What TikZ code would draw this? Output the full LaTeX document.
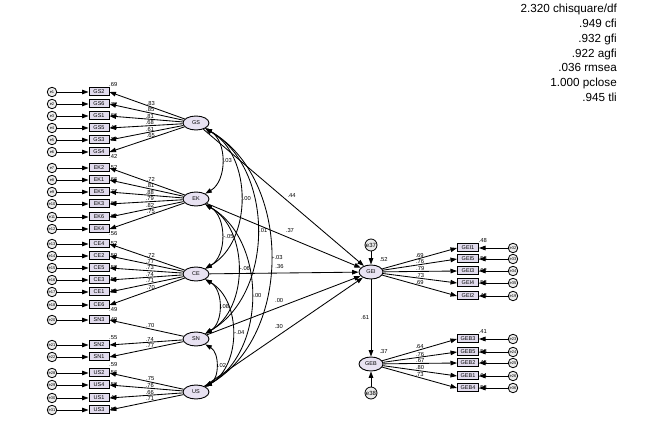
\documentclass[tikz,border=0pt]{standalone}
\usepackage{fontspec}
\setmainfont{Liberation Sans}
\usetikzlibrary{positioning}
\usetikzlibrary{shapes.geometric}
\usetikzlibrary{arrows.meta}
\definecolor{latfill}{RGB}{232,226,242}
\definecolor{obsfill}{RGB}{226,220,238}

\begin{document}
\begin{tikzpicture}[x=1pt, y=1pt, >={Triangle[length=6.5pt,width=4.6pt]},
	obs/.style={rectangle, draw, line width=1pt, fill=obsfill, minimum width=20pt, minimum height=8pt, inner sep=0pt, font=\fontsize{5.5}{5.5}\selectfont},
	lat/.style={ellipse, draw, line width=0.9pt, fill=latfill, minimum width=26pt, minimum height=14pt, inner sep=0pt, font=\fontsize{5.5}{5.5}\selectfont},
	err/.style={circle, draw, line width=0.8pt, fill=black!8, minimum size=9.5pt, inner sep=0pt, font=\fontsize{4}{4}\selectfont},
	load/.style={->, line width=0.85pt},
	cov/.style={<->, line width=0.85pt},
	num/.style={inner sep=0.5pt, font=\fontsize{5.8}{5.8}\selectfont}]
	\useasboundingbox (0,0) rectangle (665,-422);

	\node[anchor=north east, align=right, inner sep=0pt, font=\fontsize{11.7}{14.8}\selectfont] (fit) at (617,-4) {2.320 chisquare/df\\.949 cfi\\.932 gfi\\.922 agfi\\.036 rmsea\\1.000 pclose\\.945 tli};

	\node[lat] (GS) at (196,-123) {GS};
	\node[lat] (EK) at (196,-199) {EK};
	\node[lat] (CE) at (196,-274) {CE};
	\node[lat] (SN) at (196,-339) {SN};
	\node[lat] (US) at (196,-392) {US};
	\node[lat, minimum width=24pt] (GEI) at (371,-272) {GEI};
	\node[lat, minimum width=24pt] (GEB) at (371,-364) {GEB};
	\node[err, minimum size=12pt, font=\fontsize{6}{6}\selectfont] (e37) at (371,-245) {e37};
	\node[err, minimum size=12pt, font=\fontsize{6}{6}\selectfont] (e38) at (371,-393) {e38};

	\foreach \ind/\yy/\er/\ld/\rsq/\fac/\rc/\ra in {
		GS2/92/e1/.83/.69/GS/north east/south west, GS6/104/e2/.85/.72/GS/east/west,
		GS1/116/e3/.81/.66/GS/east/west, GS5/128/e4/.68/.46/GS/east/west,
		GS3/140/e5/.61/.37/GS/east/west, GS4/152/e6/.65/.42/GS/south east/west,
		EK2/168/e7/.72/.52/EK/east/west, EK1/180/e8/.81/.66/EK/east/west,
		EK5/192/e9/.88/.77/EK/east/west, EK3/204/e10/.79/.62/EK/east/west,
		EK6/217/e11/.82/.67/EK/east/west, EK4/229/e12/.75/.56/EK/south east/west,
		CE4/244/e13/.72/.52/CE/east/west, CE2/256/e14/.77/.59/CE/east/west,
		CE5/268/e15/.73/.53/CE/east/west, CE3/280/e16/.74/.55/CE/east/west,
		CE1/292/e17/.71/.50/CE/east/west, CE6/305/e18/.70/.49/CE/south east/west,
		SN3/320/e20/.70/.49/SN/east/west, SN2/345/e21/.74/.55/SN/north east/south west,
		SN1/357/e22/.77/.59/SN/south east/north west,
		US2/373/e28/.75/.56/US/east/west, US4/385/e29/.76/.58/US/east/west,
		US1/398/e30/.66/.44/US/east/west, US3/410/e31/.71/.50/US/east/west}
	{
		\node[obs] (\ind) at (99,-\yy) {\ind};
		\node[err] (\er) at (52,-\yy) {\er};
		\node[num, anchor=\ra, xshift=-1pt] at (\ind.\rc) {\rsq};
		\draw[load] (\er) -- (\ind.west);
		\draw[load] (\fac) -- (\ind.east) node[num, pos=.45, above=0pt] {\ld};
	}

	\foreach \ind/\yy/\er/\ld/\rsq/\fac/\rc/\ra in {
		GEI1/248/e32/.69/.48/GEI/north east/south west, GEI5/259/e33/.76/.58/GEI/east/west,
		GEI3/271/e34/.79/.62/GEI/east/west, GEI4/283/e35/.73/.53/GEI/east/west,
		GEI2/296/e19/.69/.48/GEI/east/west,
		GEB3/339/e23/.64/.41/GEB/north east/south west, GEB5/352/e24/.76/.58/GEB/east/west,
		GEB2/363/e25/.67/.45/GEB/east/west, GEB1/376/e26/.80/.64/GEB/east/west,
		GEB4/388/e36/.73/.53/GEB/east/west}
	{
		\node[obs, minimum width=21pt] (\ind) at (468,-\yy) {\ind};
		\node[err] (\er) at (513,-\yy) {\er};
		\node[num, anchor=\ra, xshift=-1pt] at (\ind.\rc) {\rsq};
		\draw[load] (\er) -- (\ind.east);
		\draw[load] (\fac) -- (\ind.west) node[num, pos=.5, above=0pt] {\ld};
	}

	\draw[cov] (GS) to[out=-30,in=30] node[num, right=1pt] {.03} (EK);
	\draw[cov] (GS) to[out=-30,in=30] node[num, right=1pt] {.00} (CE);
	\draw[cov] (GS) to[out=-30,in=30] node[num, right=1pt] {.01} (SN);
	\draw[cov] (GS) to[out=-30,in=30] node[num, right=1pt] {-.03} (US);
	\draw[cov] (EK) to[out=-30,in=30] node[num, right=1pt] {-.05} (CE);
	\draw[cov] (EK) to[out=-30,in=30] node[num, right=1pt] {-.06} (SN);
	\draw[cov] (EK) to[out=-30,in=30] node[num, right=1pt] {.00} (US);
	\draw[cov] (CE) to[out=-30,in=30] node[num, right=1pt] {.08} (SN);
	\draw[cov] (CE) to[out=-30,in=30] node[num, right=1pt] {-.04} (US);
	\draw[cov] (SN) to[out=-30,in=30] node[num, right=1pt] {.02} (US);

	\draw[load] (GS) -- (GEI) node[num, pos=.55, above=6pt] {.44};
	\draw[load] (EK) -- (GEI) node[num, pos=.54, above=5pt] {.37};
	\draw[load] (CE) -- (GEI) node[num, pos=.47, above=4pt] {.36};
	\draw[load] (SN) -- (GEI) node[num, pos=.47, above=4pt] {.00};
	\draw[load] (US) -- (GEI) node[num, pos=.47, above=6pt] {.30};
	\draw[load] (GEI) -- (GEB) node[num, midway, left=1pt] {.61};
	\draw[load] (e37) -- (GEI);
	\draw[load] (e38) -- (GEB);
	\node[num, above right=4pt and -1pt of GEI.north east] (r2gei) {.52};
	\node[num, above right=4pt and -1pt of GEB.north east] (r2geb) {.37};
\end{tikzpicture}
\end{document}
